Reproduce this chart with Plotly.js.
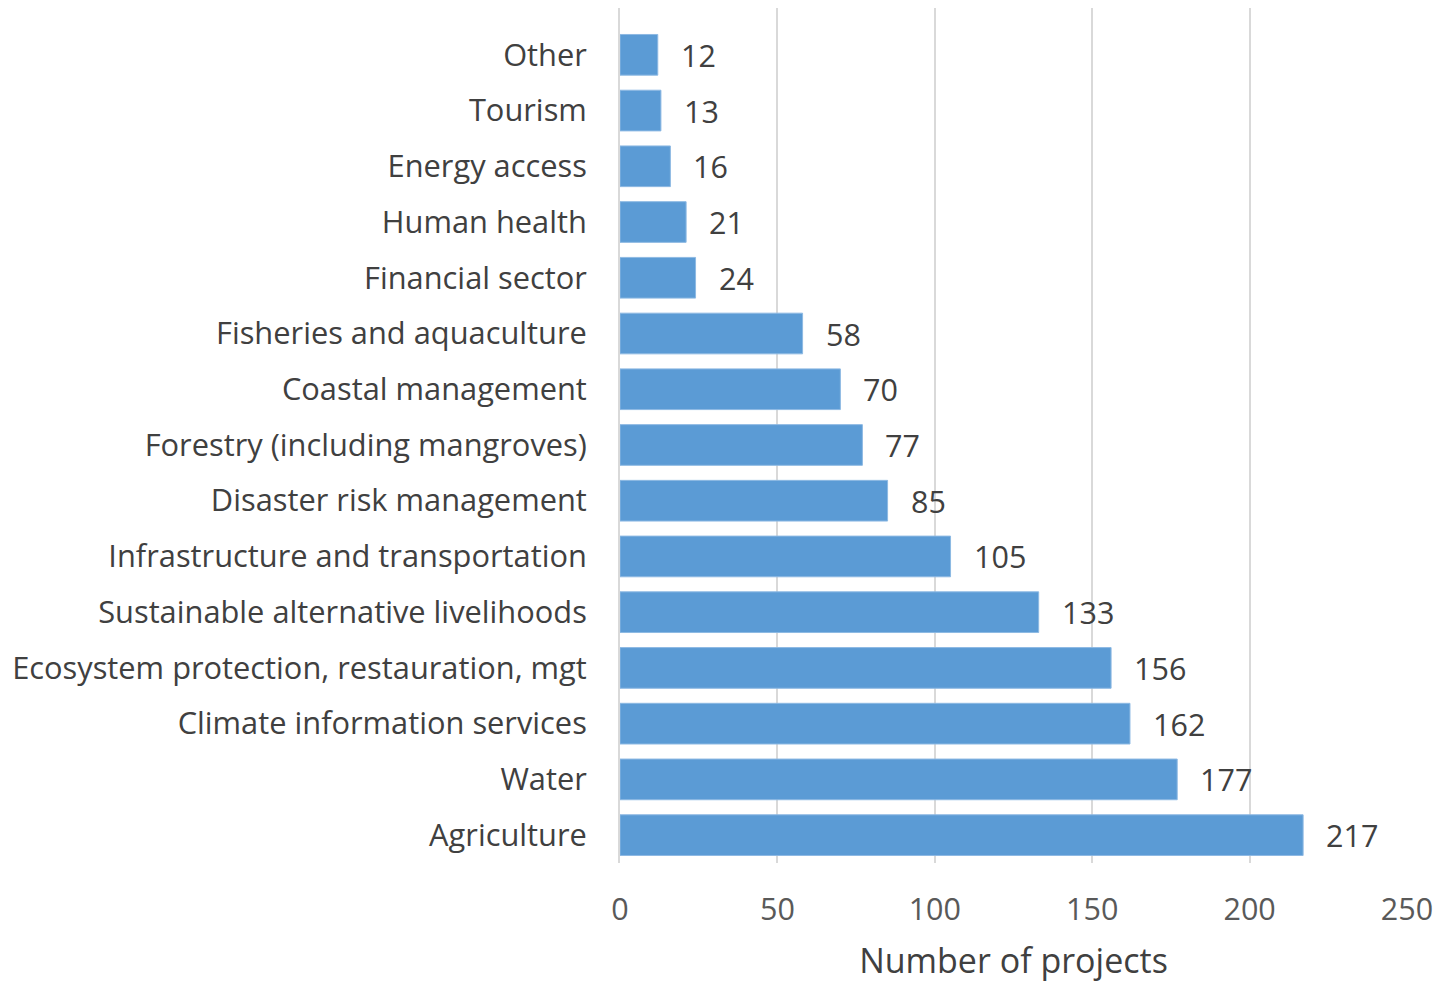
<!DOCTYPE html>
<html>
<head>
<meta charset="utf-8">
<script src="https://cdn.plot.ly/plotly-3.0.1.min.js"></script>
<style>
  html, body { margin: 0; padding: 0; background: #ffffff; }
  #chart { width: 1437px; height: 983px; }
</style>
</head>
<body>
<div id="chart"></div>
<script>
// Adaptation projects by sector (bottom to top)
const sectors = [
  "Agriculture",
  "Water",
  "Climate information services",
  "Ecosystem protection, restauration, mgt",
  "Sustainable alternative livelihoods",
  "Infrastructure and transportation",
  "Disaster risk management",
  "Forestry (including mangroves)",
  "Coastal management",
  "Fisheries and aquaculture",
  "Financial sector",
  "Human health",
  "Energy access",
  "Tourism",
  "Other"
];
const projectCounts = [217, 177, 162, 156, 133, 105, 85, 77, 70, 58, 24, 21, 16, 13, 12];
const xTickValues = [0, 50, 100, 150, 200, 250];

const fontFamily = "'Open Sans', 'Noto Sans', sans-serif";

const bars = {
  type: "bar",
  orientation: "h",
  x: projectCounts,
  y: sectors,
  marker: { color: "#5b9bd5", line: { color: "#8db9e3", width: 1 } },
  width: 0.73,
  hoverinfo: "x+y"
};

// Value labels placed just past the end of each bar
const valueLabels = sectors.map((s, i) => ({
  x: projectCounts[i],
  y: s,
  xref: "x",
  yref: "y",
  text: String(projectCounts[i]),
  showarrow: false,
  xanchor: "left",
  yanchor: "middle",
  xshift: 21,
  font: { family: fontFamily, size: 30.5, color: "#404040" }
}));

const layout = {
  width: 1437,
  height: 983,
  margin: { l: 620, r: 30, t: 8, b: 120 },
  paper_bgcolor: "#ffffff",
  plot_bgcolor: "#ffffff",
  showlegend: false,
  font: { family: fontFamily, color: "#404040" },
  xaxis: {
    range: [0, 250],
    tickvals: xTickValues,
    ticktext: xTickValues.map(String),
    showgrid: true,
    gridcolor: "#d9d9d9",
    gridwidth: 2,
    zeroline: false,
    showline: false,
    ticks: "outside",
    ticklen: 19,
    tickcolor: "rgba(0,0,0,0)",
    tickfont: { family: fontFamily, size: 30.5, color: "#595959" },
    title: {
      text: "Number of projects",
      font: { family: fontFamily, size: 34, color: "#404040" },
      standoff: 28
    },
    fixedrange: true
  },
  yaxis: {
    type: "category",
    categoryorder: "array",
    categoryarray: sectors,
    range: [-0.5, 14.84],
    showgrid: false,
    zeroline: false,
    showline: true,
    linecolor: "#d9d9d9",
    linewidth: 2,
    ticks: "outside",
    ticklen: 25,
    tickcolor: "rgba(0,0,0,0)",
    tickfont: { family: fontFamily, size: 30.8, color: "#404040" },
    fixedrange: true
  },
  bargap: 0.27,
  annotations: valueLabels
};

Plotly.newPlot("chart", [bars], layout, { displayModeBar: false, staticPlot: true });
</script>
</body>
</html>
